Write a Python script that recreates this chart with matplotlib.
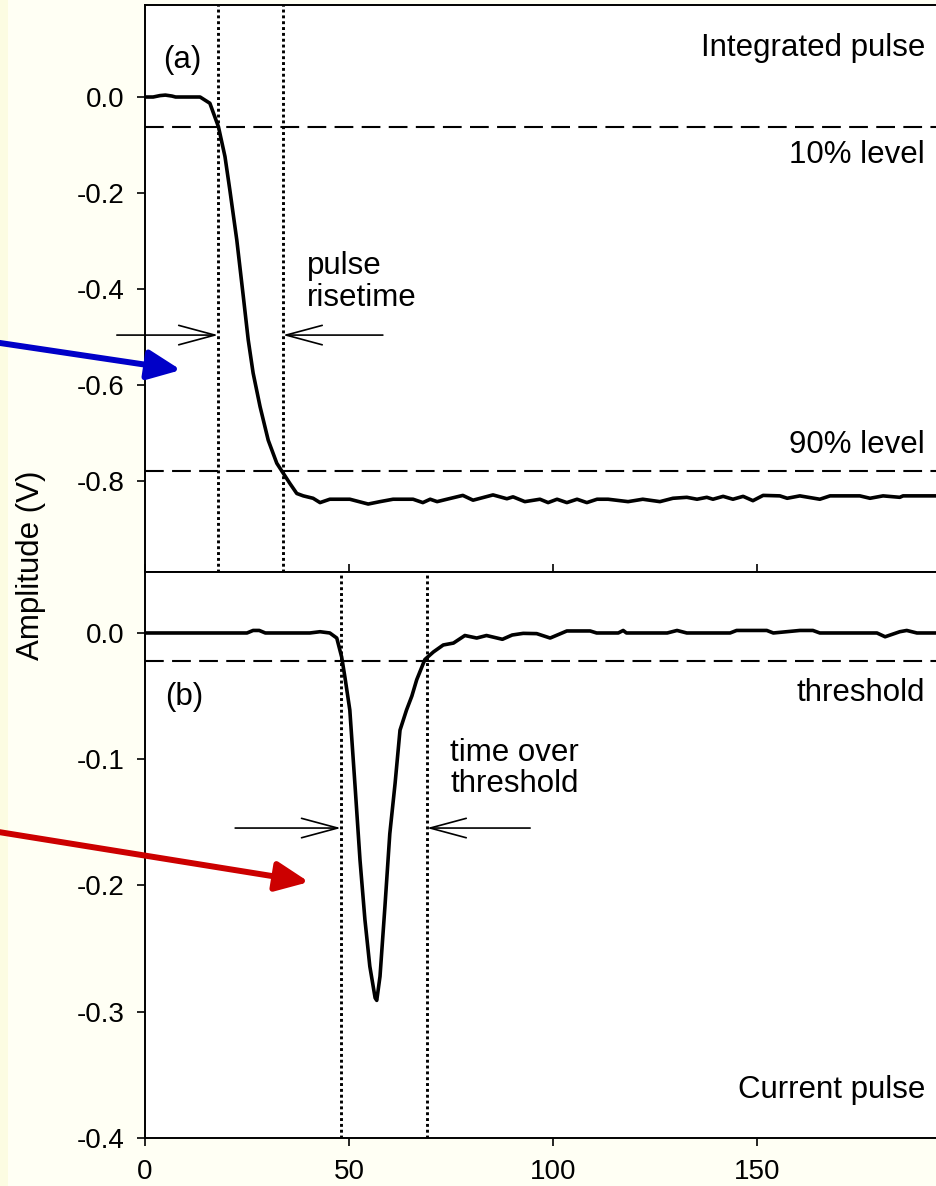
import matplotlib
matplotlib.use("Agg")
import matplotlib.pyplot as plt
from matplotlib.patches import Rectangle

plt.rcParams['font.family'] = ['Liberation Sans', 'DejaVu Sans']
plt.rcParams['axes.unicode_minus'] = False

# integrated pulse (a)
t_int = [0, 2, 3.7, 5, 6.6, 7.5, 10, 13.5, 15.9, 18.0, 19.6, 20.8, 22.5, 24.1,
         25.3, 26.5, 28.2, 30.2, 32.3, 33.9, 35.5, 37.2, 38.8, 41.2, 42.9, 45.3,
         50.2, 54.7, 57.6, 60.8, 65.7, 68.1, 69.9, 71.6, 74.0, 77.9, 80.4, 85.3,
         88.7, 90.2, 93.1, 96.8, 98.8, 101.0, 103.4, 105.9, 108.3, 110.8, 113.5,
         118.4, 122.0, 126.2, 129.4, 132.8, 135.3, 137.7, 139.2, 141.7, 144.1,
         146.6, 149.0, 151.5, 155.6, 157.4, 160.5, 165.4, 167.9, 175.2, 177.7,
         180.9, 185.0, 185.8, 194, 200]
v_int = [0.0, 0.0, 0.003, 0.004, 0.002, 0.0, 0.0, 0.0, -0.013, -0.062, -0.124,
         -0.194, -0.298, -0.416, -0.506, -0.575, -0.645, -0.715, -0.763, -0.784,
         -0.805, -0.826, -0.831, -0.836, -0.845, -0.838, -0.838, -0.848, -0.843,
         -0.838, -0.838, -0.845, -0.838, -0.843, -0.838, -0.830, -0.840, -0.829,
         -0.837, -0.833, -0.843, -0.838, -0.845, -0.838, -0.845, -0.838, -0.845,
         -0.838, -0.838, -0.843, -0.838, -0.843, -0.836, -0.834, -0.838, -0.834,
         -0.838, -0.832, -0.838, -0.832, -0.841, -0.830, -0.831, -0.836, -0.831,
         -0.838, -0.831, -0.831, -0.836, -0.831, -0.834, -0.831, -0.831, -0.831]

# current pulse (b)
t_cur = [0, 25, 26.5, 28, 29.5, 40.4, 42.9, 45.3, 47.0, 48.2, 49.0, 50.2, 51.5,
         52.7, 53.9, 55.1, 56.4, 56.8, 57.6, 58.8, 60.0, 61.3, 62.5, 64.1, 65.4,
         66.6, 68.6, 70.7, 73.1, 75.6, 78.4, 81.3, 83.7, 87.6, 90.0, 92.7, 96.0,
         99.3, 101.5, 103.4, 109.1, 110.7, 116.0, 117.2, 118.0, 128.0, 130.4,
         132.8, 143.4, 145.0, 152.4, 154.0, 160.5, 163.7, 165.4, 179.4, 181.4,
         185.0, 186.7, 189.2, 200]
v_cur = [0, 0, 0.002, 0.002, 0, 0, 0.001, 0, -0.004, -0.019, -0.035, -0.061,
         -0.122, -0.180, -0.227, -0.264, -0.289, -0.291, -0.272, -0.217, -0.159,
         -0.119, -0.077, -0.061, -0.050, -0.037, -0.021, -0.015, -0.0095, -0.008,
         -0.002, -0.004, -0.002, -0.005, -0.0016, -0.0003, -0.0005, -0.004, -0.001,
         0.0016, 0.0016, 0, 0, 0.002, 0, 0, 0.002, 0, 0, 0.002, 0.002, 0, 0.002,
         0.002, 0, 0, -0.003, 0.001, 0.002, 0, 0]

level10 = -0.0625
level90 = -0.779
threshold = -0.022
rise_marks = [17.9, 33.8]
tot_marks = [48.0, 69.1]

W, H = 937, 1186
fig = plt.figure(figsize=(W / 100, H / 100), dpi=100, facecolor='#FFFFF4')
fig.add_artist(Rectangle((0, 0), 8 / W, 1, transform=fig.transFigure,
                         facecolor='#FCFCE2', edgecolor='none', zorder=-1))

left = 145 / W
width = (961 - 145) / W
ax1 = fig.add_axes([left, 1 - 572 / H, width, (572 - 5) / H])
ax2 = fig.add_axes([left, 1 - 1138 / H, width, (1138 - 572) / H])

tick_fs = 20
txt_fs = 22.5
dotted = (0, (1, 1))

for ax in (ax1, ax2):
    ax.set_xlim(0, 200)
    ax.spines['right'].set_visible(False)
    for s in ('left', 'top', 'bottom'):
        ax.spines[s].set_linewidth(1.4)
    ax.tick_params(axis='y', direction='out', length=6, width=1.2,
                   labelsize=tick_fs, pad=9)

# ---- panel (a)
ax1.plot(t_int, v_int, color='black', lw=2.6, solid_joinstyle='round')
ax1.set_ylim(-0.9896, 0.1917)
ax1.set_yticks([0.0, -0.2, -0.4, -0.6, -0.8])
ax1.set_yticklabels(['0.0', '-0.2', '-0.4', '-0.6', '-0.8'])
ax1.set_xticks([0, 50, 100, 150, 200])
ax1.tick_params(axis='x', direction='in', length=6, width=1.2, labelbottom=False)
for lv in (level10, level90):
    ax1.axhline(lv, color='black', lw=1.5, dashes=(9, 4))
for xm in rise_marks:
    ax1.axvline(xm, color='black', lw=2.1, linestyle=dotted)

ax1.text(4.4, 0.077, '(a)', fontsize=txt_fs, ha='left', va='center')
ax1.text(191.2, 0.102, 'Integrated pulse', fontsize=txt_fs, ha='right', va='center')
ax1.text(191.2, -0.121, '10% level', fontsize=txt_fs, ha='right', va='center')
ax1.text(191.2, -0.725, '90% level', fontsize=txt_fs, ha='right', va='center')
ax1.text(39.7, -0.352, 'pulse', fontsize=txt_fs, ha='left', va='center')
ax1.text(39.7, -0.419, 'risetime', fontsize=txt_fs, ha='left', va='center')

arr = dict(arrowstyle='->,head_length=2.6,head_width=0.7', mutation_scale=10,
           lw=1.2, color='black', shrinkA=0, shrinkB=0)
ax1.annotate('', xy=(rise_marks[0], -0.496), xytext=(-6.9, -0.496),
             arrowprops=arr, annotation_clip=False)
ax1.annotate('', xy=(rise_marks[1], -0.496), xytext=(58.3, -0.496),
             arrowprops=arr, annotation_clip=False)

# ---- panel (b)
ax2.plot(t_cur, v_cur, color='black', lw=2.6, solid_joinstyle='round')
ax2.set_ylim(-0.4, 0.0483)
ax2.set_yticks([0.0, -0.1, -0.2, -0.3, -0.4])
ax2.set_yticklabels(['0.0', '-0.1', '-0.2', '-0.3', '-0.4'])
ax2.set_xticks([0, 50, 100, 150, 200])
ax2.set_xticklabels(['0', '50', '100', '150', '200'])
ax2.tick_params(axis='x', direction='out', length=6, width=1.2,
                labelsize=tick_fs, pad=9)
ax2.axhline(threshold, color='black', lw=1.5, dashes=(9, 4))
for xm in tot_marks:
    ax2.axvline(xm, color='black', lw=2.1, linestyle=dotted)

ax2.text(4.9, -0.0507, '(b)', fontsize=txt_fs, ha='left', va='center')
ax2.text(191.2, -0.0475, 'threshold', fontsize=txt_fs, ha='right', va='center')
ax2.text(191.2, -0.362, 'Current pulse', fontsize=txt_fs, ha='right', va='center')
ax2.text(74.8, -0.095, 'time over', fontsize=txt_fs, ha='left', va='center')
ax2.text(74.8, -0.120, 'threshold', fontsize=txt_fs, ha='left', va='center')
ax2.annotate('', xy=(tot_marks[0], -0.1545), xytext=(22.1, -0.1545),
             arrowprops=arr, annotation_clip=False)
ax2.annotate('', xy=(tot_marks[1], -0.1545), xytext=(94.4, -0.1545),
             arrowprops=arr, annotation_clip=False)

fig.text(31 / W, 1 - 565 / H, 'Amplitude (V)', rotation=90, fontsize=txt_fs,
         ha='center', va='center')

# coloured pointer arrows coming in from the left
big = '-|>,head_length=1.0,head_width=0.45'
ax1.annotate('', xy=(181, H - 370), xycoords='figure pixels',
             xytext=(-20, H - 340), textcoords='figure pixels',
             arrowprops=dict(arrowstyle=big, mutation_scale=20, lw=4.3,
                             color='#0000C8', shrinkA=0, shrinkB=0),
             annotation_clip=False)
ax2.annotate('', xy=(309, H - 882), xycoords='figure pixels',
             xytext=(-20, H - 829), textcoords='figure pixels',
             arrowprops=dict(arrowstyle=big, mutation_scale=20, lw=4.3,
                             color='#CC0000', shrinkA=0, shrinkB=0),
             annotation_clip=False)

fig.savefig('out.png', dpi=100)
